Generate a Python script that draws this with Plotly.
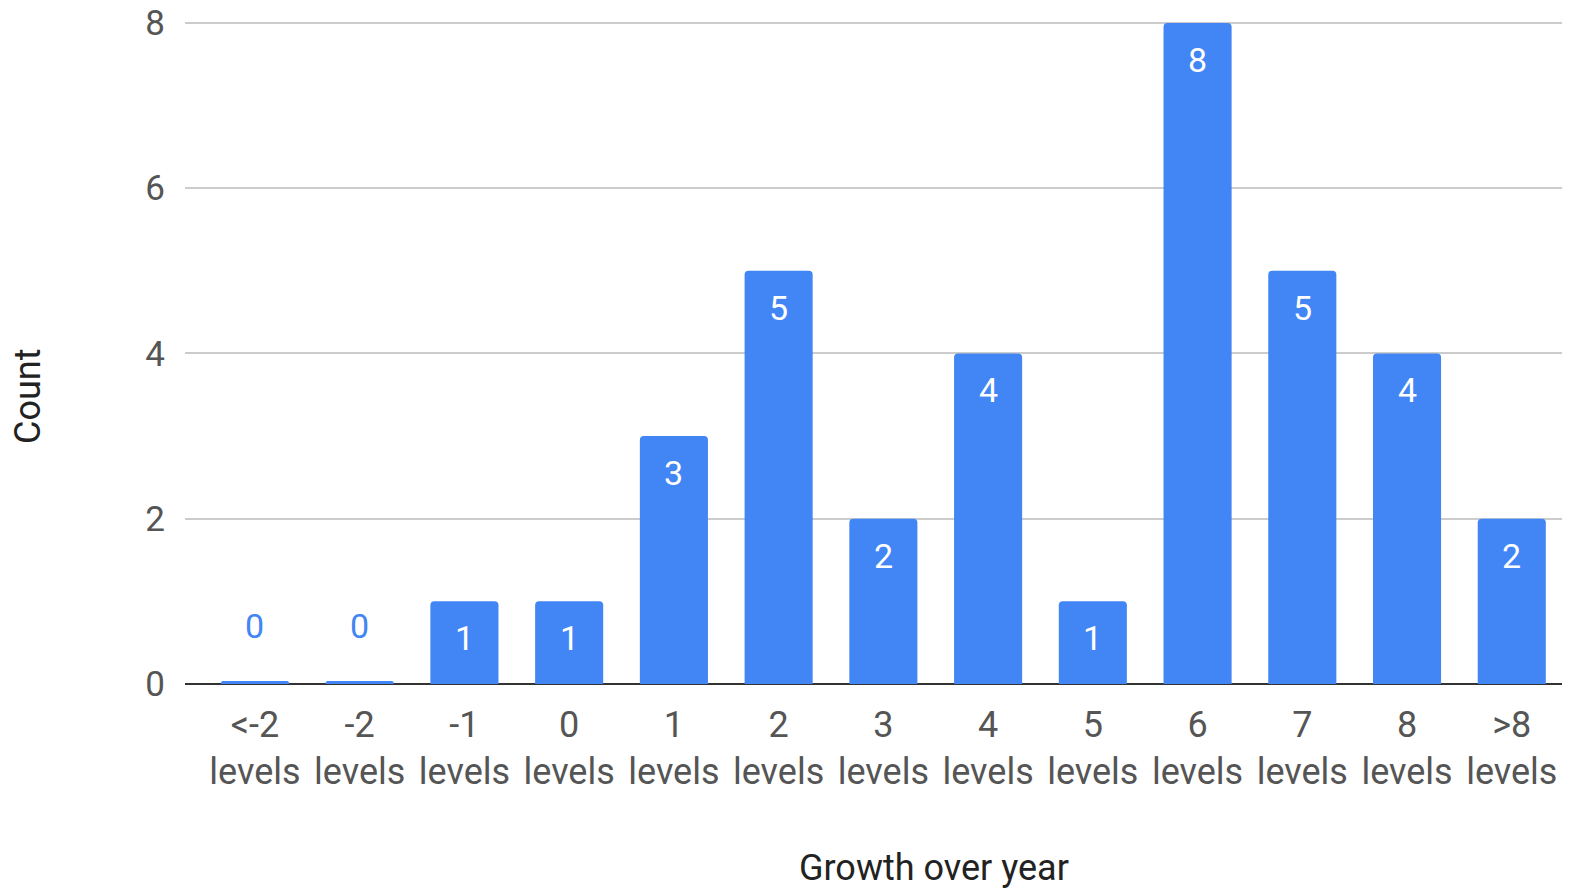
import numpy as np
import plotly.graph_objects as go

categories = ["<-2<br>levels", "-2<br>levels", "-1<br>levels", "0<br>levels", "1<br>levels",
              "2<br>levels", "3<br>levels", "4<br>levels", "5<br>levels", "6<br>levels",
              "7<br>levels", "8<br>levels", ">8<br>levels"]
counts = [0, 0, 1, 1, 3, 5, 2, 4, 1, 8, 5, 4, 2]
y_ticks = [0, 2, 4, 6, 8]
x_title = "Growth over year"
y_title = "Count"

BLUE = "#4285f4"
FONT = "Roboto"

# Zero-count bars are drawn as a thin line at the baseline, as in the reference
display = np.maximum(np.array(counts, dtype=float), 0.035)

fig = go.Figure()
fig.add_trace(go.Bar(
    x=list(range(len(categories))),
    y=display,
    width=0.65,
    marker=dict(color=BLUE, cornerradius=4, line=dict(width=0)),
    hoverinfo="skip",
))

annotations = []
for i, v in enumerate(counts):
    if v > 0:
        annotations.append(dict(x=i, y=v, yshift=-37, text=str(v), showarrow=False,
                                font=dict(family=FONT, size=34, color="white"),
                                xanchor="center", yanchor="middle"))
    else:
        annotations.append(dict(x=i, y=0, yshift=58, text=str(v), showarrow=False,
                                font=dict(family=FONT, size=34, color=BLUE),
                                xanchor="center", yanchor="middle"))

# axis titles (placed like the reference, which centres them on a wider chart area)
annotations.append(dict(text=x_title, xref="paper", yref="paper", x=0.5408, y=0,
                        yshift=-184, showarrow=False, xanchor="center", yanchor="middle",
                        font=dict(family=FONT, size=36, color="#222222")))
annotations.append(dict(text=y_title, xref="paper", yref="paper", x=0, y=0,
                        xshift=-157, yshift=287, textangle=-90, showarrow=False,
                        xanchor="center", yanchor="middle",
                        font=dict(family=FONT, size=36, color="#222222")))

# page body has an 8px margin, so the figure is sized/offset to fill the 1570x890 window
fig.update_layout(
    width=1562, height=882,
    margin=dict(l=177, r=0, t=11, b=206),
    plot_bgcolor="white", paper_bgcolor="white",
    showlegend=False,
    annotations=annotations,
    font=dict(family=FONT, size=35, color="#555555"),
    xaxis=dict(
        range=[-0.668, 12.556],
        tickmode="array",
        tickvals=list(range(len(categories))),
        ticktext=categories,
        tickfont=dict(family=FONT, size=36, color="#555555"),
        ticks="outside", ticklen=9, tickcolor="rgba(0,0,0,0)",
        ticklabeloverflow="allow",
        showgrid=False, zeroline=False, showline=False,
        automargin=False,
        fixedrange=True,
    ),
    yaxis=dict(
        range=[0, 8.048],
        tickmode="array",
        tickvals=y_ticks,
        ticktext=[str(t) for t in y_ticks],
        tickfont=dict(family=FONT, size=35, color="#555555"),
        ticks="outside", ticklen=12, tickcolor="rgba(0,0,0,0)",
        ticklabeloverflow="allow",
        showgrid=True, gridcolor="#cccccc", gridwidth=2,
        zeroline=True, zerolinecolor="#333333", zerolinewidth=2,
        showline=False,
        automargin=False,
        fixedrange=True,
    ),
)

fig.write_html("out.html", config={"displayModeBar": False})
